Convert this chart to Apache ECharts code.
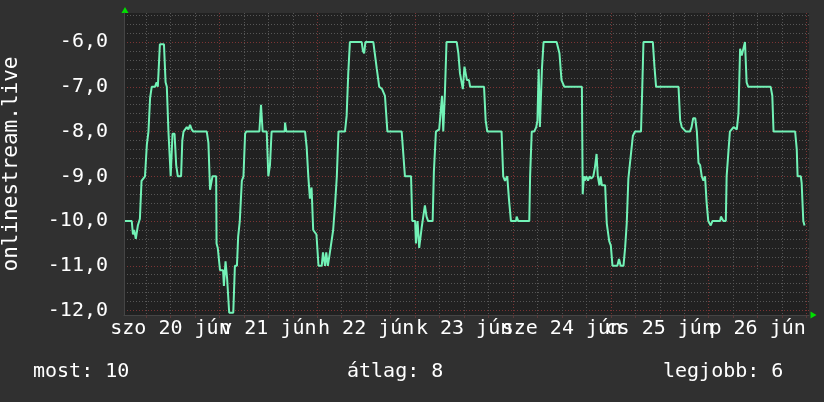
<!DOCTYPE html>
<html>
<head>
<meta charset="utf-8">
<script src="https://cdn.jsdelivr.net/npm/echarts@6/dist/echarts.min.js"></script>
<style>
    html, body { margin: 0; padding: 0; background: #303030; }
    #chart { width: 824px; height: 402px; }
</style>
</head>
<body>
<div id="chart"></div>
<script>
    // hours since 20 jún 00:00
    var hours = [
        0.85, 2.5, 2.8, 3.1, 3.5, 4.0, 4.5, 4.9, 5.75, 6.2, 6.6, 7.0, 7.4, 8.2, 8.6, 8.9, 9.4, 10.4, 10.8, 11.1,
        11.5, 12.05, 12.5, 13.0, 13.4, 13.8, 14.6, 14.9, 15.2, 15.6, 16.0, 16.4, 16.8, 17.2, 17.6, 20.9, 21.3, 21.7, 22.3, 23.2,
        23.3, 23.6, 24.15, 24.9, 25.1, 25.5, 25.9, 26.4, 27.4, 27.8, 28.3, 28.6, 29.0, 29.5, 29.9, 30.3, 30.6, 33.8, 34.2, 34.6,
        35.6, 36.0, 36.4, 36.8, 40.0, 40.1, 40.4, 45.0, 45.4, 45.8, 46.2, 46.6, 47.0, 47.8, 48.3, 49.1, 49.4, 49.9, 50.2, 50.6,
        51.1, 51.9, 52.35, 52.8, 53.2, 54.8, 55.2, 55.6, 56.0, 58.9, 59.2, 59.5, 59.8, 61.75, 62.6, 63.2, 63.9, 64.6, 65.2, 68.7,
        69.1, 69.5, 71.0, 71.3, 72.0, 72.2, 72.6, 73.0, 73.6, 74.4, 74.8, 75.2, 76.3, 76.6, 77.1, 77.9, 78.6, 78.9, 79.3, 79.7,
        82.2, 82.6, 83.0, 83.7, 84.1, 84.5, 84.7, 85.2, 85.5, 88.9, 89.3, 89.7, 93.2, 93.6, 94.05, 94.6, 95.0, 95.5, 96.75, 96.9,
        97.3, 100.0, 100.2, 100.6, 101.2, 101.7, 102.0, 102.3, 102.6, 103.1, 103.5, 106.7, 107.4, 107.9, 108.6, 112.9, 113.1, 113.4, 113.6, 114.0,
        114.4, 114.8, 115.2, 115.7, 116.1, 116.5, 116.8, 117.2, 117.5, 117.8, 118.6, 119.0, 119.4, 119.6, 120.0, 120.4, 121.6, 122.0, 122.4, 123.1,
        123.5, 123.9, 124.3, 124.7, 125.4, 125.9, 127.4, 127.7, 128.0, 130.3, 130.7, 131.1, 136.6, 137.0, 137.4, 137.9, 138.4, 139.4, 139.8, 140.2,
        140.7, 141.1, 141.5, 141.9, 142.3, 142.7, 143.1, 143.5, 143.9, 144.5, 144.9, 146.8, 147.0, 147.6, 148.2, 148.4, 148.8, 149.2, 149.6, 150.1,
        150.5, 150.9, 151.3, 151.7, 152.1, 152.5, 152.9, 153.3, 153.7, 159.2, 159.6, 159.9, 165.2, 165.6, 165.8, 166.6, 166.8, 167.2, 167.5
    ];
    var values = [
        -10.0, -10.0, -10.3, -10.2, -10.4, -10.1, -9.95, -9.1, -9.0, -8.3, -8.0, -7.25, -7.0, -7.0, -6.9, -7.0, -6.05, -6.05, -6.9, -7.0,
        -8.0, -9.0, -8.05, -8.05, -8.75, -9.0, -9.0, -8.2, -8.0, -7.95, -7.9, -7.95, -7.85, -7.95, -8.0, -8.0, -8.25, -9.3, -9.0, -9.0,
        -10.5, -10.6, -11.1, -11.1, -11.45, -10.9, -11.3, -12.05, -12.05, -11.0, -11.0, -10.35, -10.0, -9.1, -9.0, -8.05, -8.0, -8.0, -7.4, -8.0,
        -8.0, -9.0, -8.75, -8.0, -8.0, -7.8, -8.0, -8.0, -8.35, -9.0, -9.5, -9.25, -10.2, -10.3, -11.0, -11.0, -10.7, -11.0, -10.7, -11.0,
        -10.7, -10.2, -9.65, -9.0, -8.0, -8.0, -7.65, -6.7, -6.0, -6.0, -6.2, -6.25, -6.0, -6.0, -6.6, -7.0, -7.05, -7.2, -8.0, -8.0,
        -8.5, -9.0, -9.0, -10.0, -10.0, -10.5, -10.0, -10.6, -10.15, -9.65, -9.9, -10.0, -10.0, -8.9, -8.0, -7.95, -7.2, -8.0, -7.15, -6.0,
        -6.0, -6.25, -6.7, -7.05, -6.55, -6.55, -6.85, -6.85, -7.0, -7.0, -7.75, -8.0, -8.0, -9.0, -9.1, -9.0, -9.5, -10.0, -10.0, -9.9,
        -10.0, -10.0, -9.0, -8.0, -8.0, -7.9, -7.75, -6.6, -7.9, -6.6, -6.0, -6.0, -6.25, -6.85, -7.0, -7.0, -9.4, -9.0, -9.1, -9.0,
        -9.1, -9.0, -9.05, -9.0, -8.8, -8.5, -9.0, -9.2, -9.0, -9.2, -9.2, -10.05, -10.05, -10.45, -10.55, -11.0, -11.0, -10.85, -11.0, -11.0,
        -10.6, -10.05, -9.05, -8.7, -8.1, -8.0, -8.0, -7.05, -6.0, -6.0, -6.55, -7.0, -7.0, -7.75, -7.9, -7.95, -8.0, -8.0, -7.9, -7.7,
        -7.7, -8.0, -8.7, -8.75, -9.0, -9.1, -9.0, -9.6, -10.0, -10.1, -10.0, -10.0, -9.9, -10.0, -10.0, -9.0, -8.5, -8.0, -8.0, -7.9,
        -7.9, -7.95, -7.6, -6.15, -6.3, -6.15, -6.0, -6.9, -7.0, -7.0, -7.2, -8.0, -8.0, -8.4, -9.0, -9.0, -9.15, -10.0, -10.1
    ];

    var dayHours = [12, 36, 60, 84, 108, 132, 156];
    var dayLabels = ['szo 20 jún', 'v 21 jún', 'h 22 jún', 'k 23 jún', 'sze 24 jún', 'cs 25 jún', 'p 26 jún'];
    var yLabels = [-12, -11, -10, -9, -8, -7, -6];
    var footer = ['most: 10', 'átlag: 8', 'legjobb: 6'];

    var font = 'DejaVu Sans Mono';
    var gridGray = '#565656';
    var gridRed = '#7c3434';

    // minor grid every 6 hours / 0.2 units
    var xTicks = [];
    for (var h = 6; h <= 168; h += 6) xTicks.push(h);
    var yTicks = [];
    for (var i = 0; i <= 33; i++) yTicks.push(Math.round((-12 + i * 0.2) * 10) / 10);

    var points = hours.map(function (h, i) { return [h, values[i]]; });

    // the day labels overlap each other, so they go on two axes (odd / even days)
    function dayAxis(parity) {
        return {
            type: 'value',
            min: 0.6,
            max: 168.6,
            position: 'bottom',
            axisLine: {show: false},
            axisTick: {show: false},
            splitLine: {show: false},
            axisLabel: {
                customValues: dayHours.filter(function (d, k) { return k % 2 === parity; }),
                showMinLabel: true,
                showMaxLabel: true,
                hideOverlap: false,
                color: '#ffffff',
                fontFamily: font,
                fontSize: 20,
                margin: 4,
                formatter: function (v) {
                    return dayLabels[dayHours.indexOf(Math.round(v))];
                }
            }
        };
    }

    var myChart = echarts.init(document.getElementById('chart'));
    var option = {
        backgroundColor: '#303030',
        animation: false,
        grid: {
            left: 124,
            right: 15,
            top: 13,
            bottom: 87,
            outerBoundsMode: 'none',
            containLabel: false,
            show: true,
            backgroundColor: '#212121',
            borderWidth: 0
        },
        xAxis: [{
            type: 'value',
            min: 0.6,
            max: 168.6,
            axisLine: {show: true, lineStyle: {color: '#454545', width: 1}},
            axisTick: {show: true, customValues: xTicks, length: 3, lineStyle: {color: '#5a3a3a'}},
            splitLine: {
                show: true,
                lineStyle: {color: [gridGray, gridGray, gridGray, gridRed], type: [1, 2], width: 1}
            },
            axisLabel: {show: false}
        }, dayAxis(0), dayAxis(1)],
        yAxis: {
            type: 'value',
            min: -12.1,
            max: -5.35,
            name: 'onlinestream.live',
            nameLocation: 'middle',
            nameRotate: 90,
            nameGap: 102,
            nameTextStyle: {color: '#ffffff', fontFamily: font, fontSize: 21},
            axisLine: {show: true, lineStyle: {color: '#454545', width: 1}},
            axisTick: {show: false, customValues: yTicks},
            splitLine: {
                show: true,
                lineStyle: {color: [gridRed, gridGray, gridGray, gridGray, gridGray], type: [1, 2], width: 1}
            },
            axisLabel: {
                customValues: yLabels,
                showMinLabel: true,
                showMaxLabel: true,
                color: '#ffffff',
                fontFamily: font,
                fontSize: 20,
                margin: 16,
                formatter: function (v) {
                    return v.toFixed(1).replace('.', ',');
                }
            }
        },
        series: [{
            type: 'line',
            data: points,
            showSymbol: false,
            lineStyle: {color: '#72f2b6', width: 2},
            silent: true
        }],
        graphic: [
            {type: 'polygon', shape: {points: [[125, 7], [121.5, 13], [128.5, 13]]}, style: {fill: '#00e000'}},
            {type: 'polygon', shape: {points: [[810.5, 311.5], [810.5, 318.5], [816.5, 315]]}, style: {fill: '#00e000'}},
            {type: 'text', left: 33, top: 362, style: {text: footer[0], fill: '#ffffff', font: '20px ' + font}},
            {type: 'text', left: 347, top: 362, style: {text: footer[1], fill: '#ffffff', font: '20px ' + font}},
            {type: 'text', left: 663, top: 362, style: {text: footer[2], fill: '#ffffff', font: '20px ' + font}}
        ]
    };
    myChart.setOption(option);
</script>
</body>
</html>
